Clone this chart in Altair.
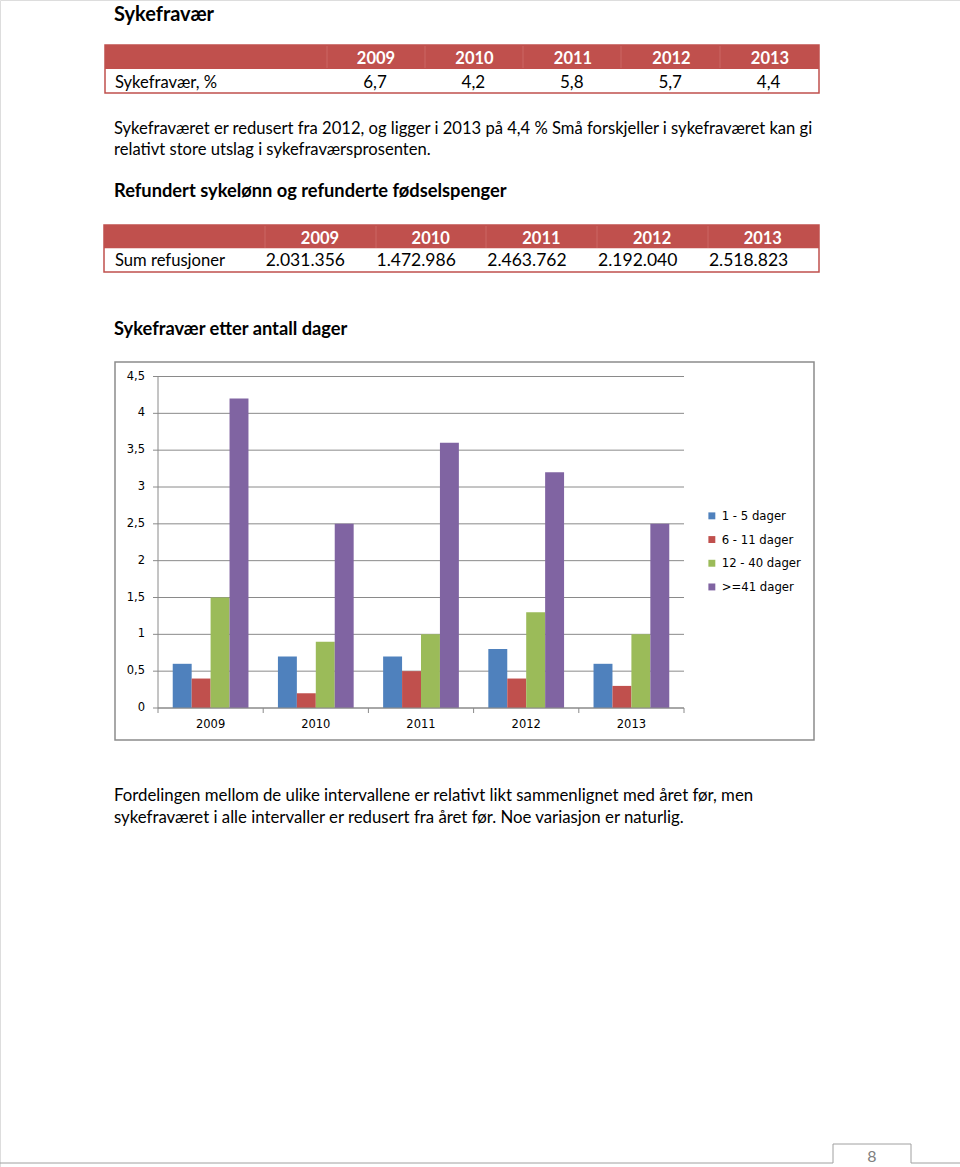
import altair as alt
import pandas as pd

# ---------------- data ----------------
years = ["2009", "2010", "2011", "2012", "2013"]
sykefravaer_pct = ["6,7", "4,2", "5,8", "5,7", "4,4"]
refusjoner = ["2.031.356", "1.472.986", "2.463.762", "2.192.040", "2.518.823"]

series = ["1 - 5 dager", "6 - 11 dager", "12 - 40 dager", ">=41 dager"]
v_1_5 = [0.6, 0.7, 0.7, 0.8, 0.6]
v_6_11 = [0.4, 0.2, 0.5, 0.4, 0.3]
v_12_40 = [1.5, 0.9, 1.0, 1.3, 1.0]
v_41 = [4.2, 2.5, 3.6, 3.2, 2.5]
series_colors = ["#4F81BD", "#C0504D", "#9BBB59", "#8064A2"]

y_ticks = [0, 0.5, 1, 1.5, 2, 2.5, 3, 3.5, 4, 4.5]
y_tick_labels = ["0", "0,5", "1", "1,5", "2", "2,5", "3", "3,5", "4", "4,5"]

title_text = "Sykefravær"
table1_label = "Sykefravær, %"
table2_label = "Sum refusjoner"
para1 = [
    "Sykefraværet er redusert fra 2012, og ligger i 2013 på 4,4 % Små forskjeller i sykefraværet kan gi",
    "relativt store utslag i sykefraværsprosenten.",
]
heading2 = "Refundert sykelønn og refunderte fødselspenger"
heading3 = "Sykefravær etter antall dager"
para2 = [
    "Fordelingen mellom de ulike intervallene er relativt likt sammenlignet med året før, men",
    "sykefraværet i alle intervaller er redusert fra året før. Noe variasjon er naturlig.",
]
page_number = "8"

# ---------------- helpers ----------------
FONT = "Lato"
RED = "#C0504D"
one = pd.DataFrame({"a": [0]})


def box(x, x2, y, y2, fill=None, stroke=None, sw=1):
    kw = {}
    if fill is not None:
        kw["fill"] = fill
    else:
        kw["fillOpacity"] = 0
    if stroke is not None:
        kw["stroke"] = stroke
        kw["strokeWidth"] = sw
    return alt.Chart(one).mark_rect(**kw).encode(
        x=alt.value(x), x2=alt.value(x2), y=alt.value(y), y2=alt.value(y2)
    )


def line(x, x2, y, y2, color, sw=1):
    return alt.Chart(one).mark_rule(color=color, strokeWidth=sw).encode(
        x=alt.value(x), x2=alt.value(x2), y=alt.value(y), y2=alt.value(y2)
    )


def text_lines(lines, x, y0, dy, size, bold=False, color="black", font=FONT):
    df = pd.DataFrame({"t": lines, "i": list(range(len(lines)))})
    return (
        alt.Chart(df)
        .transform_calculate(py=f"{y0} + datum.i * {dy}")
        .mark_text(
            align="left", baseline="alphabetic", font=font, fontSize=size,
            fontWeight="bold" if bold else "normal", color=color,
        )
        .encode(x=alt.value(x), y=alt.Y("py:Q", scale=None, axis=None), text="t:N")
    )


def row_texts(values, x0, dx, y, size, bold=False, color="black", align="center"):
    df = pd.DataFrame({"t": values, "i": list(range(len(values)))})
    return (
        alt.Chart(df)
        .transform_calculate(px=f"{x0} + datum.i * {dx}")
        .mark_text(
            align=align, baseline="alphabetic", font=FONT, fontSize=size,
            fontWeight="bold" if bold else "normal", color=color,
        )
        .encode(x=alt.X("px:Q", scale=None, axis=None), y=alt.value(y), text="t:N")
    )


layers = []

BODY = 16.6
HEAD = 18.3

# ---------------- page text & tables ----------------
layers.append(text_lines([title_text], 114, 21, 0, 20, bold=True))

# table 1
layers.append(box(105, 819, 45, 69, fill=RED))
layers.append(box(105, 819, 69, 93, fill="white"))
for sx in [327, 425, 523, 621, 720]:
    layers.append(line(sx, sx, 46, 68, "#CB6764", 1))
layers.append(box(105, 819, 45, 93, stroke=RED, sw=1.5))
layers.append(row_texts(years, 376, 98.5, 64, 16.5, bold=True, color="white"))
layers.append(text_lines([table1_label], 115, 87.5, 0, BODY))
layers.append(row_texts(sykefravaer_pct, 375, 98.4, 87.5, 17))

layers.append(text_lines(para1, 114, 134, 21, BODY))
layers.append(text_lines([heading2], 114, 197, 0, HEAD, bold=True))

# table 2
layers.append(box(104, 819, 225, 248.5, fill=RED))
layers.append(box(104, 819, 248.5, 272, fill="white"))
for sx in [265, 376, 486, 597, 708]:
    layers.append(line(sx, sx, 226, 248, "#CB6764", 1))
layers.append(box(104, 819, 225, 272, stroke=RED, sw=1.5))
layers.append(row_texts(years, 320, 110.7, 243.5, 16.5, bold=True, color="white"))
layers.append(text_lines([table2_label], 115, 266, 0, BODY))
layers.append(row_texts(refusjoner, 345, 110.8, 266, 17.5, align="right"))

layers.append(text_lines([heading3], 114, 334.5, 0, HEAD, bold=True))

# ---------------- bar chart ----------------
PL, PR, PB, PT = 158, 684, 708, 376.5
layers.append(box(115, 814, 362, 740, fill="white", stroke="#8C8C8C", sw=1.5))

ydf = pd.DataFrame({"v": y_ticks, "lab": y_tick_labels})
yscale = alt.Scale(domain=[0, 4.5], range=[PB, PT])
xscale = alt.Scale(domain=years, range=[PL, PR], paddingInner=0.28, paddingOuter=0.14)

layers.append(
    alt.Chart(ydf).mark_rule(color="#8A8A8A", strokeWidth=1).encode(
        y=alt.Y("v:Q", scale=yscale, axis=None), x=alt.value(PL), x2=alt.value(PR)
    )
)
layers.append(
    alt.Chart(ydf).mark_rule(color="#8A8A8A", strokeWidth=1).encode(
        y=alt.Y("v:Q", scale=yscale, axis=None), x=alt.value(153), x2=alt.value(PL)
    )
)
layers.append(line(PL, PL, PT, PB, "#8A8A8A", 1))
layers.append(
    alt.Chart(ydf).mark_text(
        align="right", baseline="middle", font="DejaVu Sans", fontSize=11.5, color="black"
    ).encode(y=alt.Y("v:Q", scale=yscale, axis=None), x=alt.value(145), text="lab:N")
)

bdf = pd.DataFrame({"b": list(range(len(years) + 1))})
layers.append(
    alt.Chart(bdf).mark_rule(color="#8A8A8A", strokeWidth=1).encode(
        x=alt.X("b:Q", scale=alt.Scale(domain=[0, len(years)], range=[PL, PR]), axis=None),
        y=alt.value(PB), y2=alt.value(PB + 5),
    )
)

rows = []
for s, vals in zip(series, [v_1_5, v_6_11, v_12_40, v_41]):
    for yr, v in zip(years, vals):
        rows.append({"year": yr, "series": s, "value": v})
bars = pd.DataFrame(rows)

layers.append(
    alt.Chart(bars).mark_bar().encode(
        x=alt.X("year:N", scale=xscale, axis=None),
        xOffset=alt.XOffset("series:N", scale=alt.Scale(domain=series, paddingInner=0, paddingOuter=0)),
        y=alt.Y("value:Q", scale=yscale, axis=None),
        color=alt.Color(
            "series:N",
            scale=alt.Scale(domain=series, range=series_colors),
            legend=alt.Legend(
                title=None, orient="none", legendX=706, legendY=510,
                symbolType="square", symbolSize=48, symbolStrokeWidth=0,
                labelFont="DejaVu Sans", labelFontSize=11.7, labelColor="black",
                labelOffset=4, rowPadding=10.7,
            ),
        ),
    )
)

layers.append(line(PL, PR, PB, PB, "#8A8A8A", 1))

layers.append(
    alt.Chart(pd.DataFrame({"year": years})).mark_text(
        align="center", baseline="middle", font="DejaVu Sans", fontSize=11.5, color="black"
    ).encode(x=alt.X("year:N", scale=xscale, axis=None), y=alt.value(724.5), text="year:N")
)

# ---------------- bottom text ----------------
layers.append(text_lines(para2, 114, 801, 21.5, 16.8))

# ---------------- footer ----------------
FG = "#A0A0A0"
layers.append(line(0, 833, 1163, 1163, FG, 1))
layers.append(line(833, 833, 1144, 1163, FG, 1))
layers.append(line(833, 911, 1144, 1144, FG, 1))
layers.append(line(911, 911, 1144, 1163, FG, 1))
layers.append(line(911, 960, 1163, 1163, FG, 1))
layers.append(
    alt.Chart(one).mark_text(
        align="center", baseline="middle", font=FONT, fontSize=16, color="#808080"
    ).encode(x=alt.value(872), y=alt.value(1157), text=alt.value(page_number))
)

chart = (
    alt.layer(*layers)
    .resolve_scale(x="independent", y="independent")
    .properties(width=960, height=1167, autosize=alt.AutoSizeParams(type="none"), padding=0)
    .configure_view(stroke=None)
    .configure(background="white")
)

chart.save("out.html", embed_options={"renderer": "svg", "actions": False})
